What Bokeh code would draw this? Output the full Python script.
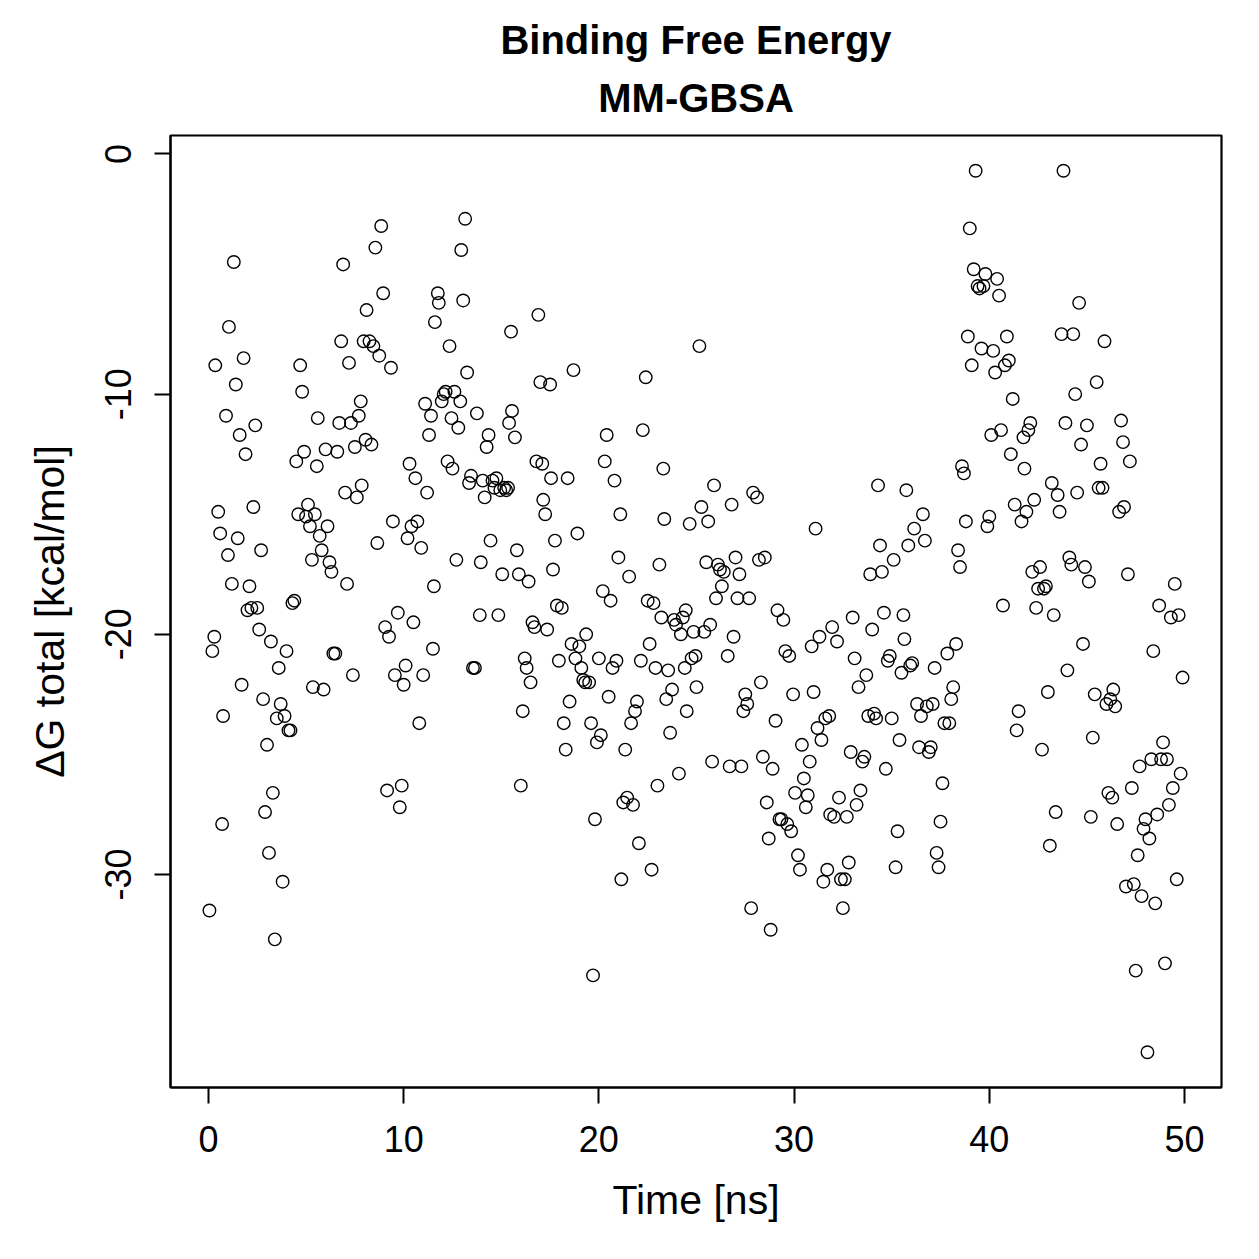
from bokeh.plotting import figure
from bokeh.models import Range1d, FixedTicker, Title
from bokeh.embed import file_html
from bokeh.resources import INLINE

# Simulation time [ns]
time_ns = [
    0.05, 0.2, 0.3, 0.35, 0.5, 0.6, 0.7, 0.75, 0.9, 1.0, 1.05, 1.2, 1.3, 1.4, 1.5, 1.6, 1.7, 1.8, 1.9,
    2.0, 2.1, 2.2, 2.3, 2.4, 2.5, 2.6, 2.7, 2.8, 2.9, 3.0, 3.1, 3.2, 3.3, 3.4, 3.5, 3.6, 3.7, 3.8, 3.9,
    4.0, 4.1, 4.2, 4.3, 4.4, 4.5, 4.6, 4.7, 4.8, 4.9, 5.0, 5.1, 5.2, 5.3, 5.35, 5.45, 5.55, 5.6, 5.7,
    5.8, 5.9, 6.0, 6.1, 6.2, 6.3, 6.4, 6.5, 6.6, 6.7, 6.8, 6.9, 7.0, 7.1, 7.2, 7.3, 7.4, 7.5, 7.6, 7.7,
    7.8, 7.85, 7.95, 8.05, 8.1, 8.25, 8.35, 8.45, 8.55, 8.65, 8.75, 8.85, 8.95, 9.05, 9.15, 9.25, 9.35,
    9.45, 9.55, 9.7, 9.8, 9.9, 10.0, 10.1, 10.2, 10.3, 10.4, 10.5, 10.6, 10.7, 10.8, 10.9, 11.0, 11.1,
    11.2, 11.3, 11.4, 11.5, 11.55, 11.6, 11.75, 11.8, 11.95, 12.05, 12.15, 12.25, 12.35, 12.45, 12.5,
    12.6, 12.7, 12.8, 12.9, 12.95, 13.05, 13.15, 13.25, 13.35, 13.45, 13.55, 13.65, 13.75, 13.9, 13.95,
    14.05, 14.15, 14.25, 14.35, 14.45, 14.55, 14.65, 14.75, 14.85, 14.95, 15.05, 15.15, 15.25, 15.35,
    15.4, 15.5, 15.55, 15.7, 15.8, 15.9, 16.0, 16.1, 16.2, 16.3, 16.4, 16.5, 16.6, 16.7, 16.8, 16.9,
    17.0, 17.1, 17.15, 17.25, 17.35, 17.5, 17.55, 17.65, 17.75, 17.85, 17.95, 18.1, 18.2, 18.3, 18.4,
    18.5, 18.6, 18.7, 18.8, 18.9, 19.0, 19.1, 19.2, 19.3, 19.35, 19.5, 19.6, 19.7, 19.8, 19.9, 20.0,
    20.1, 20.2, 20.3, 20.4, 20.5, 20.6, 20.7, 20.8, 20.9, 21.0, 21.1, 21.15, 21.25, 21.35, 21.45, 21.55,
    21.65, 21.75, 21.85, 21.95, 22.05, 22.15, 22.25, 22.4, 22.5, 22.6, 22.7, 22.8, 22.9, 23.0, 23.1,
    23.2, 23.3, 23.35, 23.45, 23.55, 23.65, 23.75, 23.85, 23.95, 24.1, 24.2, 24.3, 24.4, 24.45, 24.5,
    24.65, 24.75, 24.85, 24.95, 25.0, 25.15, 25.25, 25.4, 25.5, 25.6, 25.7, 25.8, 25.9, 26.0, 26.1,
    26.2, 26.3, 26.4, 26.6, 26.7, 26.8, 26.9, 27.0, 27.1, 27.2, 27.3, 27.4, 27.5, 27.6, 27.7, 27.8,
    27.9, 28.1, 28.2, 28.3, 28.4, 28.5, 28.6, 28.7, 28.8, 28.9, 29.05, 29.15, 29.25, 29.35, 29.45,
    29.55, 29.65, 29.75, 29.85, 29.95, 30.05, 30.2, 30.3, 30.4, 30.5, 30.6, 30.7, 30.8, 30.9, 31.0,
    31.1, 31.2, 31.3, 31.4, 31.5, 31.6, 31.7, 31.8, 31.85, 31.95, 32.05, 32.2, 32.3, 32.4, 32.5, 32.6,
    32.7, 32.8, 32.9, 33.0, 33.1, 33.2, 33.3, 33.4, 33.5, 33.6, 33.7, 33.8, 33.9, 34.0, 34.1, 34.2,
    34.3, 34.4, 34.5, 34.6, 34.7, 34.8, 34.9, 35.0, 35.1, 35.2, 35.3, 35.4, 35.5, 35.6, 35.65, 35.75,
    35.85, 35.95, 36.05, 36.15, 36.3, 36.4, 36.5, 36.6, 36.7, 36.8, 36.9, 37.0, 37.1, 37.2, 37.3, 37.4,
    37.5, 37.6, 37.7, 37.85, 37.95, 38.05, 38.15, 38.3, 38.4, 38.5, 38.6, 38.7, 38.8, 38.9, 39.0, 39.1,
    39.2, 39.3, 39.4, 39.5, 39.6, 39.7, 39.8, 39.9, 40.0, 40.1, 40.2, 40.3, 40.4, 40.5, 40.6, 40.7,
    40.8, 40.9, 41.0, 41.1, 41.2, 41.3, 41.4, 41.5, 41.65, 41.75, 41.8, 41.9, 42.0, 42.1, 42.2, 42.3,
    42.4, 42.5, 42.6, 42.7, 42.8, 42.9, 43.0, 43.1, 43.2, 43.3, 43.4, 43.5, 43.6, 43.7, 43.8, 43.9,
    44.0, 44.1, 44.2, 44.3, 44.4, 44.5, 44.6, 44.7, 44.8, 44.9, 45.0, 45.1, 45.2, 45.3, 45.4, 45.5,
    45.6, 45.7, 45.8, 45.9, 46.0, 46.1, 46.2, 46.3, 46.35, 46.45, 46.55, 46.65, 46.75, 46.85, 46.9,
    47.0, 47.1, 47.2, 47.3, 47.4, 47.5, 47.6, 47.7, 47.8, 47.9, 48.0, 48.1, 48.2, 48.3, 48.4, 48.5,
    48.6, 48.7, 48.8, 48.9, 49.0, 49.1, 49.2, 49.3, 49.4, 49.5, 49.6, 49.7, 49.8, 49.9,
]

# Total binding free energy per frame [kcal/mol]
dg_total = [
    -31.5, -20.7, -20.1, -8.8, -14.9, -15.8, -27.9, -23.4, -10.9, -16.7, -7.2, -17.9, -4.5, -9.6, -16.0, -11.7, -22.1, -8.5, -12.5,
    -19.0, -18.0, -18.9, -14.7, -11.3, -18.9, -19.8, -16.5, -22.7, -27.4, -24.6, -29.1, -20.3, -26.6, -32.7, -23.5, -21.4, -22.9, -30.3, -23.4,
    -20.7, -24.0, -24.0, -18.7, -18.6, -12.8, -15.0, -8.8, -9.9, -12.4, -15.1, -14.6, -15.5, -16.9, -22.2, -15.0, -13.0, -11.0, -15.9,
    -16.5, -22.3, -12.3, -15.5, -17.0, -17.4, -20.8, -20.8, -12.4, -11.2, -7.8, -4.6, -14.1, -17.9, -8.7, -11.2, -21.7, -12.2, -14.3, -10.9,
    -10.3, -13.8, -7.8, -11.9, -6.5, -7.8, -12.1, -8.0, -3.9, -16.2, -8.4, -3.0, -5.8, -19.7, -26.5, -20.1, -8.9,
    -15.3, -21.7, -19.1, -27.2, -26.3, -22.1, -21.3, -16.0, -12.9, -15.5, -19.5, -13.5, -15.3, -23.7, -16.4, -21.7, -10.4,
    -14.1, -11.7, -10.9, -20.6, -18.0, -7.0, -5.8, -6.2, -10.3, -10.0, -9.9, -12.8, -8.0, -11.0, -13.1,
    -9.9, -16.9, -11.4, -10.3, -4.0, -6.1, -2.7, -9.1, -13.7, -13.4, -21.4, -21.4, -10.8, -19.2, -17.0,
    -13.6, -14.3, -12.2, -11.7, -16.1, -13.6, -13.9, -13.5, -19.2, -14.0, -17.5, -13.9, -14.0, -13.9,
    -11.2, -7.4, -10.7, -11.8, -16.5, -17.5, -26.3, -23.2, -21.0, -21.4, -17.8, -22.0, -19.5, -19.7, -12.8, -6.7,
    -9.5, -12.9, -14.4, -15.0, -19.8, -9.6, -13.5, -17.3, -16.1, -18.8, -21.1, -18.9, -23.7, -24.8, -13.5,
    -22.8, -20.4, -9.0, -21.0, -15.8, -20.5, -21.4, -21.9, -22.0, -20.0, -22.0, -23.7, -34.2, -27.7, -24.5, -21.0,
    -24.2, -18.2, -12.8, -11.7, -22.6, -18.6, -21.4, -13.6, -21.1, -16.8, -15.0, -30.2, -27.0, -24.8, -26.8, -17.6,
    -23.7, -27.1, -23.2, -22.8, -28.7, -21.1, -11.5, -9.3, -18.6, -20.4, -29.8, -18.7, -21.4, -26.3, -17.1,
    -19.3, -13.1, -15.2, -22.7, -21.5, -24.1, -22.3, -19.4, -19.6, -25.8, -20.0, -19.3, -21.4, -19.0, -23.2,
    -15.4, -21.0, -19.9, -20.9, -22.2, -8.0, -14.7, -19.9, -17.0, -15.3, -19.6, -25.3, -13.8, -18.5, -17.1,
    -17.3, -18.0, -17.4, -20.9, -25.5, -14.6, -20.1, -16.8, -18.5, -17.5, -25.5, -23.2, -22.5, -22.9, -18.5, -31.4,
    -14.1, -14.3, -16.9, -22.0, -25.1, -16.8, -27.0, -28.5, -32.3, -25.6, -23.6, -19.0, -27.7, -27.7, -19.4,
    -20.7, -27.9, -20.9, -28.2, -22.5, -26.6, -29.2, -29.8, -24.6, -26.0, -27.2, -26.7, -25.3, -20.5, -22.4,
    -15.6, -23.9, -20.1, -24.4, -30.3, -23.5, -29.8, -23.4, -27.5, -19.7, -27.6, -20.3, -26.8, -30.2, -31.4, -30.2,
    -27.6, -29.5, -24.9, -19.3, -21.0, -27.1, -22.2, -26.5, -25.3, -25.1, -21.7, -23.4, -17.5, -19.8, -23.3, -23.5,
    -13.8, -16.3, -17.4, -19.1, -25.6, -21.1, -20.9, -23.5, -16.9, -29.7, -28.2, -24.4, -21.6, -19.2, -20.2, -14.0,
    -16.3, -21.3, -21.2, -15.6, -22.9, -24.7, -23.4, -15.0, -16.1, -23.0, -24.9, -24.7, -22.9, -21.4, -29.1, -29.7,
    -27.8, -26.2, -23.7, -20.8, -23.7, -22.7, -22.2, -20.4, -16.5, -17.2, -13.0, -13.3, -15.3, -7.6, -3.1, -8.8,
    -4.8, -0.7, -5.5, -5.6, -8.1, -5.5, -5.0, -15.5, -15.1, -11.7, -8.2, -9.1, -5.2, -5.9, -11.5, -18.8,
    -8.8, -7.6, -8.6, -12.5, -10.2, -14.6, -24.0, -23.2, -15.3, -11.8, -13.1, -14.9, -11.5, -11.2, -17.4, -14.4,
    -18.9, -18.1, -17.2, -24.8, -18.1, -18.0, -22.4, -28.8, -13.7, -19.2, -27.4, -14.2, -14.9, -7.5, -0.7, -11.2,
    -21.5, -16.8, -17.1, -7.5, -10.0, -14.1, -6.2, -12.1, -20.4, -17.2, -11.3, -17.8, -27.6, -24.3, -22.5, -9.5,
    -13.9, -12.9, -13.9, -7.8, -22.9, -26.6, -22.7, -26.8, -22.3, -23.0, -27.9, -14.9, -11.1, -12.0, -14.7,
    -30.5, -17.5, -12.8, -26.4, -30.4, -34.0, -29.2, -25.5, -30.9, -28.1, -27.7, -37.4, -28.5, -25.2, -20.7, -31.2,
    -27.5, -18.8, -25.2, -24.5, -33.7, -25.2, -27.1, -19.3, -26.4, -17.9, -30.2, -19.2, -25.8, -21.8,
]

x_ticks = [0, 10, 20, 30, 40, 50]
y_ticks = [-30, -20, -10, 0]

# axis limits padded by 4% of the data span on each side
def padded(vals, frac=0.04):
    lo, hi = min(vals), max(vals)
    pad = (hi - lo) * frac
    return lo - pad, hi + pad

x0, x1 = padded(time_ns)
y0, y1 = padded(dg_total)

FONT = "Liberation Sans"

p = figure(
    width=1259, height=1259,
    x_range=Range1d(x0, x1), y_range=Range1d(y0, y1),
    output_backend="svg", toolbar_location=None,
    min_border_left=170, min_border_right=38,
    min_border_top=135, min_border_bottom=172,
    background_fill_color="white", border_fill_color="white",
)

p.add_layout(Title(text="MM-GBSA", align="center", text_font=FONT,
                   text_font_size="40px", text_font_style="bold",
                   text_color="black", standoff=31), "above")
p.add_layout(Title(text="Binding Free Energy", align="center", text_font=FONT,
                   text_font_size="40px", text_font_style="bold",
                   text_color="black", standoff=-6), "above")

p.xgrid.visible = False
p.ygrid.visible = False
p.outline_line_color = "black"
p.outline_line_width = 2.2
p.outline_line_alpha = 1.0

for ax in (p.xaxis[0], p.yaxis[0]):
    ax.axis_line_color = "black"
    ax.axis_line_width = 2
    ax.major_tick_line_color = "black"
    ax.major_tick_line_width = 2
    ax.major_tick_in = 0
    ax.major_tick_out = 16
    ax.minor_tick_line_color = None
    ax.major_label_text_font = FONT
    ax.major_label_text_font_size = "36px"
    ax.major_label_text_color = "black"
    ax.axis_label_text_font = FONT
    ax.axis_label_text_font_size = "41px"
    ax.axis_label_text_font_style = "normal"
    ax.axis_label_text_color = "black"

p.xaxis.ticker = FixedTicker(ticks=x_ticks)
p.yaxis.ticker = FixedTicker(ticks=y_ticks)
p.yaxis.major_label_overrides = {t: str(t) for t in y_ticks}
p.xaxis.axis_label = "Time [ns]"
p.yaxis.axis_label = "ΔG total [kcal/mol]"
p.yaxis.major_label_orientation = "vertical"
p.xaxis.major_label_standoff = 22
p.yaxis.major_label_standoff = 23
p.xaxis.axis_label_standoff = 22
p.yaxis.axis_label_standoff = 30

p.scatter(time_ns, dg_total, marker="circle", size=12.5,
          fill_color=None, line_color="black", line_width=1.4)

open("out.html", "w").write(file_html(p, INLINE))
